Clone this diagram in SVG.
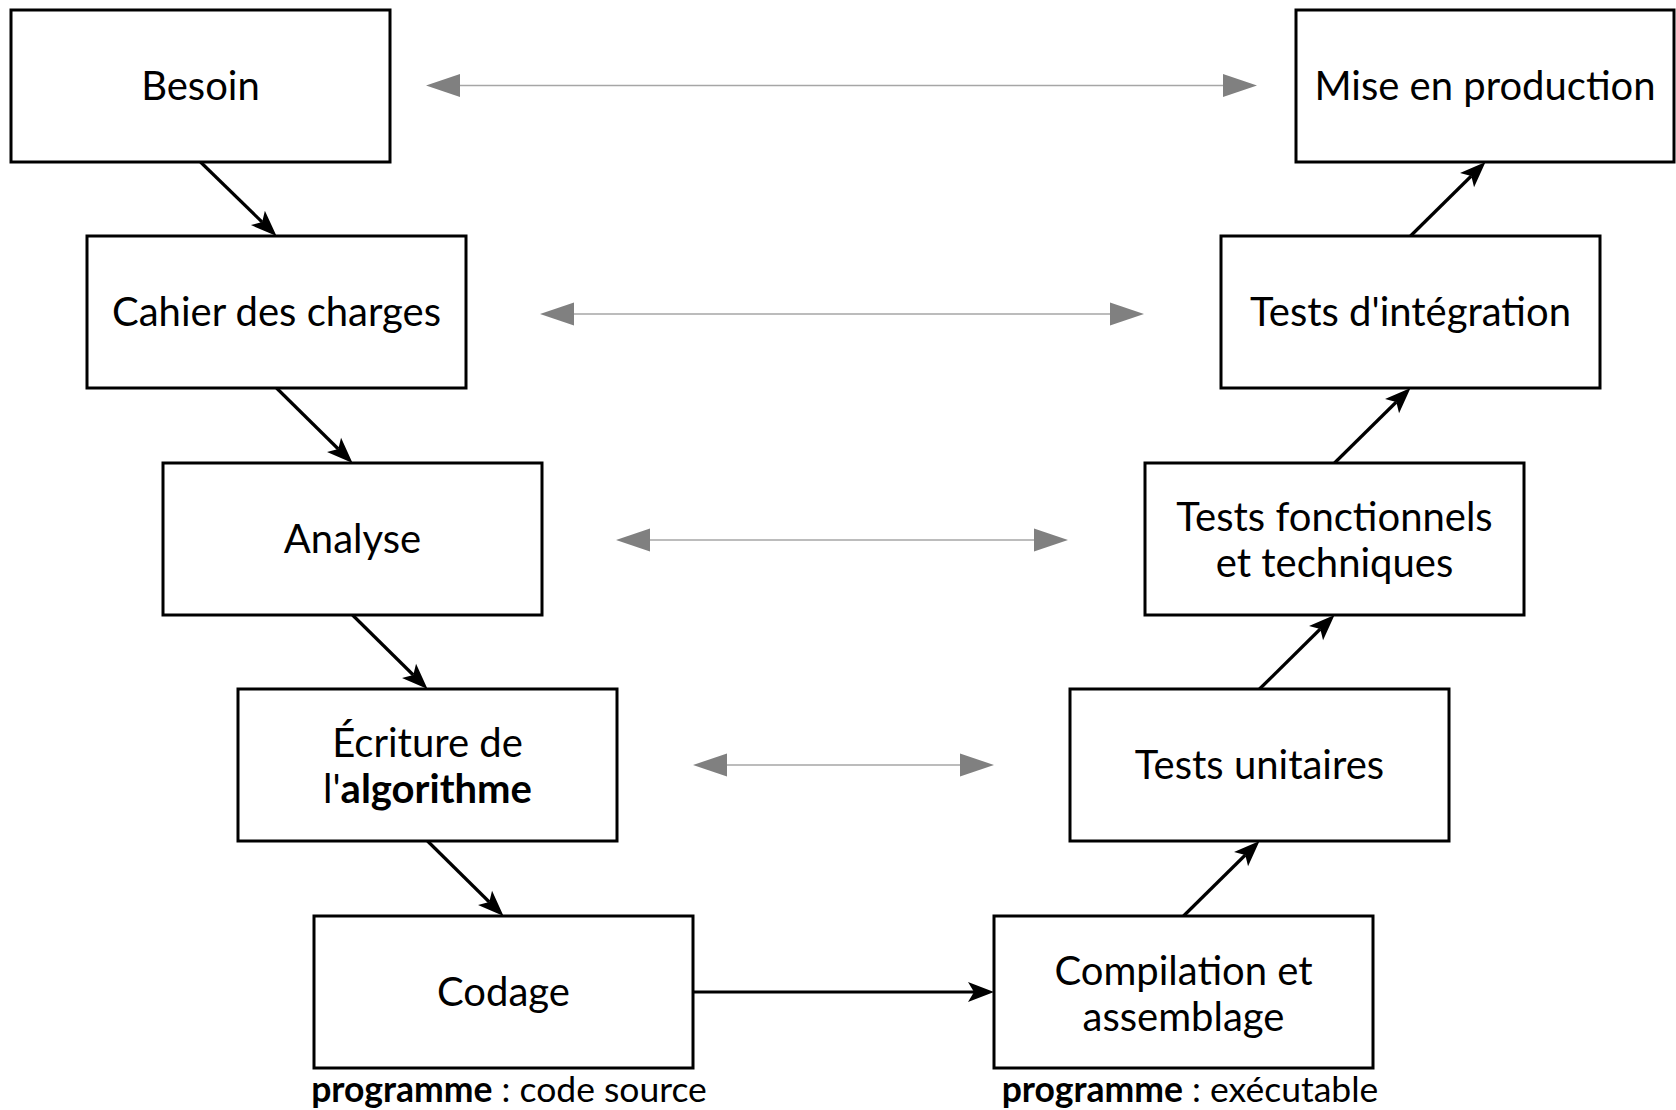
<svg xmlns="http://www.w3.org/2000/svg" width="1676" height="1110" viewBox="0 0 1676 1110">
<style>
.box{fill:#fff;stroke:#000;stroke-width:3}
.t{font-family:Lato,"Open Sans","Liberation Sans",sans-serif;font-size:40px;fill:#000;text-anchor:middle}
.s{font-size:35.5px}
.b{font-weight:bold}
.flow{stroke:#000;stroke-width:3.2;fill:none;marker-end:url(#ah)}
.rel{stroke:#a6a6a6;stroke-width:1.6;fill:none;marker-start:url(#gh);marker-end:url(#gh)}
</style>
<defs>
<marker id="ah" markerUnits="userSpaceOnUse" markerWidth="30" markerHeight="24" viewBox="0 -12 30 24" refX="6" refY="0" orient="auto">
<path d="M26,0 L0,-10 L6,0 L0,10 Z" fill="#000"/>
</marker>
<marker id="gh" markerUnits="userSpaceOnUse" markerWidth="36" markerHeight="26" viewBox="0 -13 36 26" refX="0" refY="0" orient="auto-start-reverse">
<path d="M34,0 L0,-11.5 L0,11.5 Z" fill="#808080"/>
</marker>
</defs>

<g id="connectors">
<path class="flow" d="M200.5,162 L262.2,222.1"/>
<path class="flow" d="M276.5,388 L338.3,449"/>
<path class="flow" d="M352.5,615 L413.3,675"/>
<path class="flow" d="M427.5,841 L489.3,902"/>
<path class="flow" d="M693,992 L974,992"/>
<path class="flow" d="M1183.5,916 L1245.3,855"/>
<path class="flow" d="M1259.5,689 L1320.3,629"/>
<path class="flow" d="M1334.5,463 L1396.3,402"/>
<path class="flow" d="M1410.5,236 L1471.3,176"/>
<path class="rel" d="M460,85.5 L1223,85.5"/>
<path class="rel" d="M574,314 L1110,314"/>
<path class="rel" d="M650,540 L1034,540"/>
<path class="rel" d="M727,765 L960,765"/>
</g>

<g id="n-besoin">
<rect class="box" x="11" y="10" width="379" height="152"/>
<text class="t" x="200.5" y="100">Besoin</text>
</g>
<g id="n-cahier">
<rect class="box" x="87" y="236" width="379" height="152"/>
<text class="t" x="276.5" y="326">Cahier des charges</text>
</g>
<g id="n-analyse">
<rect class="box" x="163" y="463" width="379" height="152"/>
<text class="t" x="352.5" y="553">Analyse</text>
</g>
<g id="n-ecriture">
<rect class="box" x="238" y="689" width="379" height="152"/>
<text class="t" x="427.5" y="757">Écriture de</text>
<text class="t" x="427.5" y="803">l'<tspan class="b">algorithme</tspan></text>
</g>
<g id="n-codage">
<rect class="box" x="314" y="916" width="379" height="152"/>
<text class="t" x="503.5" y="1006">Codage</text>
<text class="t s" x="509" y="1102"><tspan class="b">programme</tspan> : code source</text>
</g>
<g id="n-compilation">
<rect class="box" x="994" y="916" width="379" height="152"/>
<text class="t" x="1183.5" y="985">Compilation et</text>
<text class="t" x="1183.5" y="1031">assemblage</text>
<text class="t s" x="1190" y="1102"><tspan class="b">programme</tspan> : exécutable</text>
</g>
<g id="n-unitaires">
<rect class="box" x="1070" y="689" width="379" height="152"/>
<text class="t" x="1259.5" y="779">Tests unitaires</text>
</g>
<g id="n-fonctionnels">
<rect class="box" x="1145" y="463" width="379" height="152"/>
<text class="t" x="1334.5" y="531">Tests fonctionnels</text>
<text class="t" x="1334.5" y="577">et techniques</text>
</g>
<g id="n-integration">
<rect class="box" x="1221" y="236" width="379" height="152"/>
<text class="t" x="1410.5" y="326">Tests d'intégration</text>
</g>
<g id="n-mise">
<rect class="box" x="1296" y="10" width="378" height="152"/>
<text class="t" x="1485" y="100">Mise en production</text>
</g>
</svg>
